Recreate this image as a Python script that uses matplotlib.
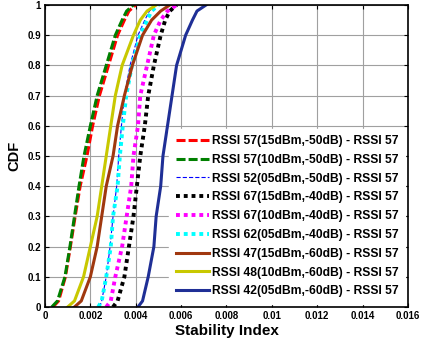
import matplotlib
matplotlib.use("Agg")
import matplotlib.pyplot as plt
import numpy as np

plt.rcParams['font.family'] = ['Liberation Sans', 'DejaVu Sans']
plt.rcParams['font.weight'] = 'bold'
plt.rcParams['lines.scale_dashes'] = False

# Cumulative probability levels and the stability index reached at each level
cdf_levels = [0.0, 0.02, 0.1, 0.2, 0.3, 0.4, 0.5, 0.6, 0.7, 0.8, 0.9, 0.95, 0.98, 1.0]

rssi57_15 = [0.00035, 0.0006, 0.0009, 0.00112, 0.00133, 0.00155, 0.00185, 0.0021, 0.0024, 0.0028, 0.0032, 0.0035, 0.0037, 0.0040]
rssi57_10 = [0.0003, 0.00055, 0.00088, 0.0011, 0.0013, 0.0015, 0.00172, 0.0020, 0.0023, 0.0027, 0.0031, 0.0034, 0.0036, 0.0039]
rssi52_05 = [0.0024, 0.0025, 0.0027, 0.00287, 0.003, 0.00316, 0.00325, 0.00337, 0.0035, 0.00375, 0.0041, 0.0044, 0.0046, 0.0049]
rssi67_15 = [0.0030, 0.0032, 0.0035, 0.0037, 0.0039, 0.00405, 0.0042, 0.0044, 0.00455, 0.0048, 0.0051, 0.0053, 0.0055, 0.0058]
rssi67_10 = [0.0027, 0.0029, 0.0031, 0.0034, 0.0036, 0.0038, 0.0039, 0.0041, 0.0042, 0.0045, 0.0048, 0.0051, 0.0054, 0.0058]
rssi62_05 = [0.00235, 0.0025, 0.0027, 0.0029, 0.003, 0.0032, 0.0033, 0.00343, 0.00358, 0.00383, 0.0042, 0.0045, 0.0047, 0.0050]
rssi47_15 = [0.0013, 0.0016, 0.0020, 0.0023, 0.0025, 0.0027, 0.0030, 0.0032, 0.0035, 0.00385, 0.0043, 0.0047, 0.0051, 0.0055]
rssi48_10 = [0.0010, 0.0013, 0.0017, 0.0020, 0.0023, 0.0025, 0.0027, 0.0029, 0.0031, 0.0034, 0.0039, 0.0042, 0.0045, 0.0049]
rssi42_05 = [0.0041, 0.0043, 0.00455, 0.0048, 0.0049, 0.0051, 0.0052, 0.0054, 0.0056, 0.0058, 0.0062, 0.0065, 0.0067, 0.0071]

labels = [
    "RSSI 57(15dBm,-50dB) - RSSI 57",
    "RSSI 57(10dBm,-50dB) - RSSI 57",
    "RSSI 52(05dBm,-50dB) - RSSI 57",
    "RSSI 67(15dBm,-40dB) - RSSI 57",
    "RSSI 67(10dBm,-40dB) - RSSI 57",
    "RSSI 62(05dBm,-40dB) - RSSI 57",
    "RSSI 47(15dBm,-60dB) - RSSI 57",
    "RSSI 48(10dBm,-60dB) - RSSI 57",
    "RSSI 42(05dBm,-60dB) - RSSI 57",
]
series = [rssi57_15, rssi57_10, rssi52_05, rssi67_15, rssi67_10,
          rssi62_05, rssi47_15, rssi48_10, rssi42_05]

styles = [
    dict(color='#ff0000', lw=2.2, dashes=(6.5, 2.2)),
    dict(color='#008000', lw=2.2, dashes=(6.5, 2.2)),
    dict(color='#0000ff', lw=0.8, dashes=(3.0, 1.5)),
    dict(color='#000000', lw=2.8, dashes=(2.8, 2.8)),
    dict(color='#ff00ff', lw=2.8, dashes=(2.8, 2.8)),
    dict(color='#00ffff', lw=2.8, dashes=(2.8, 2.8)),
    dict(color='#a0380f', lw=2.2, ls='-'),
    dict(color='#c8c800', lw=2.2, ls='-'),
    dict(color='#1f2f96', lw=2.2, ls='-'),
]

fig = plt.figure(figsize=(4.22, 3.51), dpi=100)
ax = fig.add_axes([0.1066, 0.1254, 0.8602, 0.8604])

for xs, lab, st in zip(series, labels, styles):
    ax.plot(xs, cdf_levels, label=lab, **st)

ax.set_xlim(0, 0.016)
ax.set_ylim(0, 1)
xt = np.arange(0, 0.0161, 0.002)
ax.set_xticks(xt)
ax.set_xticklabels(['0', '0.002', '0.004', '0.006', '0.008', '0.01', '0.012', '0.014', '0.016'])
yt = np.arange(0, 1.01, 0.1)
ax.set_yticks(yt)
ax.set_yticklabels(['0', '0.1', '0.2', '0.3', '0.4', '0.5', '0.6', '0.7', '0.8', '0.9', '1'])
ax.tick_params(direction='in', length=3, width=0.8, top=True, right=True,
               labelsize=7, pad=3)
for lab in ax.get_xticklabels() + ax.get_yticklabels():
    lab.set_fontweight('bold')
for sp in ax.spines.values():
    sp.set_linewidth(1.2)
    sp.set_zorder(6)

ax.grid(True, color='#a0a0a0', lw=0.8)
ax.set_axisbelow(True)

ax.set_xlabel('Stability Index', fontsize=11, fontweight='bold', labelpad=2)
ax.set_ylabel('CDF', fontsize=10.5, fontweight='bold', labelpad=4)

leg = ax.legend(loc='lower right', bbox_to_anchor=(1.0, 0.0), borderaxespad=0.25,
                fontsize=8.7, handlelength=2.7, handletextpad=0.25,
                labelspacing=0.56, frameon=True, fancybox=False,
                borderpad=0.55)
leg.get_frame().set_edgecolor('white')
leg.get_frame().set_facecolor('white')
leg.get_frame().set_alpha(1.0)
for t in leg.get_texts():
    t.set_fontweight('bold')

fig.savefig('out.png', dpi=100)
